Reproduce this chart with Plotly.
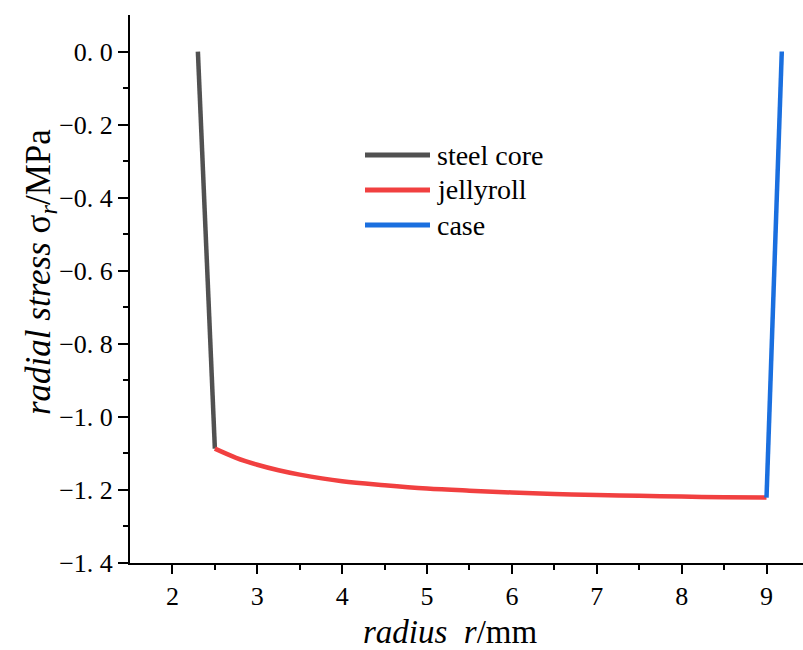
import plotly.graph_objects as go

# ---- data ----
steel_r = [2.3, 2.5]
steel_s = [0.0, -1.087]

jelly_r = [2.5, 2.75, 3.0, 3.25, 3.5, 4.0, 4.5, 5.0, 5.5, 6.0, 6.5, 7.0, 7.5, 8.0, 8.5, 9.0]
jelly_s = [-1.087, -1.112, -1.131, -1.146, -1.158, -1.176, -1.187, -1.196, -1.202,
           -1.207, -1.211, -1.214, -1.216, -1.218, -1.220, -1.221]

case_r = [9.0, 9.18]
case_s = [-1.221, 0.0]

series_names = ["steel core", "jellyroll", "case"]
series_colors = ["#515151", "#F14040", "#1A6FDF"]

x_tickvals = [2, 3, 4, 5, 6, 7, 8, 9]
x_ticktext = ["2", "3", "4", "5", "6", "7", "8", "9"]
y_tickvals = [0.0, -0.2, -0.4, -0.6, -0.8, -1.0, -1.2, -1.4]
y_ticktext = ["0. 0", "\u22120. 2", "\u22120. 4", "\u22120. 6", "\u22120. 8", "\u22121. 0", "\u22121. 2", "\u22121. 4"]
x_minor = [2.5, 3.5, 4.5, 5.5, 6.5, 7.5, 8.5]
y_minor = [-0.1, -0.3, -0.5, -0.7, -0.9, -1.1, -1.3]

FONT = "Liberation Serif, Times New Roman, serif"

fig = go.Figure()
for r, s, name, col in zip([steel_r, jelly_r, case_r], [steel_s, jelly_s, case_s],
                           series_names, series_colors):
    fig.add_trace(go.Scatter(x=r, y=s, mode="lines", name=name,
                             line=dict(color=col, width=4.5, shape="spline"),
                             showlegend=False))

fig.update_layout(
    width=803, height=650,
    margin=dict(l=130, r=0, t=15, b=87),
    plot_bgcolor="white", paper_bgcolor="white",
    font=dict(family=FONT, color="black"),
    showlegend=False,
)
fig.update_xaxes(
    range=[1.5, 9.43], showgrid=False, zeroline=False,
    showline=True, linecolor="black", linewidth=2,
    tickmode="array", tickvals=x_tickvals, ticktext=x_ticktext,
    ticks="outside", ticklen=9, tickwidth=2, tickcolor="black",
    tickfont=dict(family=FONT, size=26, color="black"),
    minor=dict(tickmode="array", tickvals=x_minor, ticks="outside",
               ticklen=5, tickwidth=2, tickcolor="black"),
)
fig.update_yaxes(
    range=[-1.4, 0.1], showgrid=False, zeroline=False,
    showline=True, linecolor="black", linewidth=2,
    tickmode="array", tickvals=y_tickvals, ticktext=y_ticktext,
    ticks="outside", ticklen=10, tickwidth=2, tickcolor="black",
    tickfont=dict(family=FONT, size=26, color="black"),
    minor=dict(tickmode="array", tickvals=y_minor, ticks="outside",
               ticklen=5, tickwidth=2, tickcolor="black"),
)

# axis titles
fig.add_annotation(text="<i>radius</i>  <i>r</i>/mm", xref="paper", yref="paper",
                   x=(450 - 130) / 673, y=(563 - 632) / 548, xanchor="center", yanchor="middle",
                   showarrow=False, font=dict(family=FONT, size=33, color="black"))
fig.add_annotation(text="<i>radial stress</i> \u03c3<sub><i>r</i></sub>/MPa", xref="paper", yref="paper",
                   x=(40 - 130) / 673, y=(563 - 272) / 548, xanchor="center", yanchor="middle",
                   textangle=-90, showarrow=False, font=dict(family=FONT, size=35, color="black"))

# legend drawn by hand
leg_y = [155, 190, 225]
for name, col, py in zip(series_names, series_colors, leg_y):
    yp = (563 - py) / 548
    fig.add_shape(type="line", xref="paper", yref="paper",
                  x0=(365 - 130) / 673, x1=(430 - 130) / 673, y0=yp, y1=yp,
                  line=dict(color=col, width=5))
    fig.add_annotation(text=name, xref="paper", yref="paper",
                       x=(435 - 130) / 673, y=yp, xanchor="left", yanchor="middle",
                       showarrow=False, font=dict(family=FONT, size=28, color="black"))

fig.write_html("out.html")
